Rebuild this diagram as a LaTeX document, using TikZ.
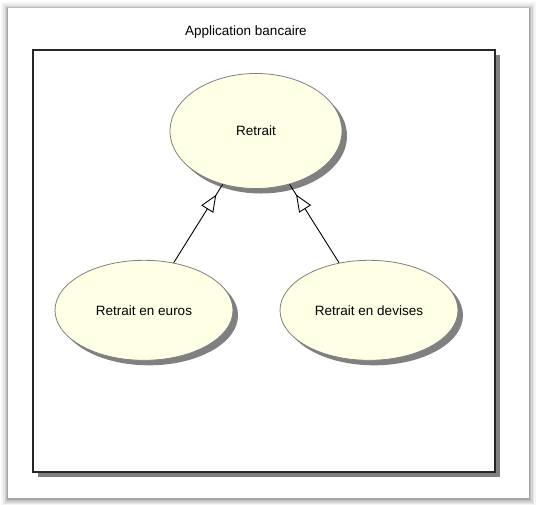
\documentclass[tikz,border=0pt]{standalone}
\usepackage{fontspec}
\setmainfont{Liberation Sans}
\usetikzlibrary{arrows.meta, positioning, shapes.geometric, shadows, decorations.markings}
\definecolor{usefill}{RGB}{255,255,230}
\definecolor{shade}{RGB}{128,128,128}

\begin{document}
\begin{tikzpicture}[
    x=1pt, y=-1pt,
    font=\fontsize{13.5}{16}\selectfont,
    usecase/.style={draw=gray, ellipse, fill=usefill, line width=0.8pt, text centered,
    inner sep=0pt, minimum width=178pt, minimum height=100pt,
    drop shadow={shadow xshift=5pt, shadow yshift=-5pt, fill=shade, opacity=1}},
    sysbox/.style={draw=black!85, line width=1.3pt, fill=white,
    minimum width=462pt, minimum height=422pt,
    drop shadow={shadow xshift=5pt, shadow yshift=-5pt, fill=shade, opacity=1}},
    title/.style={draw=none, text centered},
    generalise/.style={draw, line width=0.9pt, postaction={decorate},
    decoration={markings, mark=at position -12pt with
    {\arrow{Triangle[length=17pt, width=14pt, fill=white, line width=0.9pt]}}}}
    ]
    \useasboundingbox (0,0) rectangle (537,504);
    \fill[white] (0,0) rectangle (537,504);
    \foreach \w/\o in {14/0.04, 10/0.06, 7/0.08, 4/0.1, 2/0.12}
      \draw[black, opacity=\o, line width=\w pt] (8,9) rectangle (529,499);
    \fill[white] (8,8) rectangle (529,498);

    \node[title]    (name)    at (246,32)                           {Application bancaire};
    \node[sysbox]   (system)  at (264,261)                          {};

    \node[usecase, minimum width=172pt, minimum height=115pt]
                    (retrait) at (256,131)                          {Retrait};
    \node[usecase]  (euros)   [below=71pt of retrait, xshift=-112pt] {Retrait en euros};
    \node[usecase]  (devises) [below=71pt of retrait, xshift= 113pt] {Retrait en devises};

    \path
      (euros)   edge[generalise]  (retrait)
      (devises) edge[generalise]  (retrait)
    ;
  \end{tikzpicture}
\end{document}
